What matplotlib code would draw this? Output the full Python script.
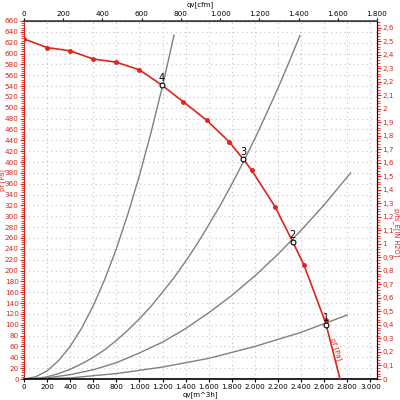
import numpy as np
import matplotlib
matplotlib.use('Agg')
import matplotlib.pyplot as plt
from matplotlib.ticker import MultipleLocator, FuncFormatter

RED = '#e2231a'
GREY = '#808080'

# fan curve, qv [m^3/h] vs pf [Pa]
q_fan = [0, 200, 400, 600, 800, 1000, 1193, 1380, 1583, 1779, 1900, 1972, 2174, 2328, 2426, 2614, 2738]
p_fan = [627, 611, 605, 590, 584, 570, 542, 511, 477, 437, 405, 385, 318, 253, 210, 103, 0]
# measured points (red markers)
q_mark = [0, 200, 400, 600, 800, 1000, 1380, 1583, 1779, 1972, 2174, 2426, 2614]
p_mark = [627, 611, 605, 590, 584, 570, 511, 477, 437, 385, 318, 210, 108]

# system curves 1..4
q_sys1 = [0, 400, 800, 1200, 1600, 2000, 2400, 2800]
p_sys1 = [0, 2, 10, 22, 38, 60, 86, 118]
q_sys2 = [0, 200, 400, 600, 800, 1000, 1200, 1400, 1600, 1800, 2000, 2200, 2400, 2600, 2830]
p_sys2 = [0, 2, 8, 17, 30, 48, 68, 93, 122, 154, 190, 230, 274, 321, 380]
q_sys3 = [0, 100, 200, 300, 400, 500, 600, 700, 800, 900, 1000, 1100, 1200,
          1300, 1400, 1500, 1600, 1700, 1800, 1900, 2000, 2100, 2200, 2300, 2390]
p_sys3 = [0, 1, 4, 10, 18, 28, 40, 54, 71, 90, 111, 134, 160,
          187, 217, 249, 284, 320, 359, 400, 443, 489, 536, 586, 633]
q_sys4 = [0, 100, 200, 300, 400, 500, 600, 700, 800, 900, 1000, 1100, 1200, 1300]
p_sys4 = [0, 4, 15, 34, 60, 94, 135, 184, 240, 304, 375, 454, 540, 634]

# operating points
op_labels = ['1', '2', '3', '4']
op_q = [2614, 2328, 1900, 1193]
op_p = [100, 253, 405, 542]

# axis ticks
cfm_ticks = [0, 200, 400, 600, 800, 1000, 1200, 1400, 1600, 1800]
inh2o_ticks = [i / 10 for i in range(27)]

CFM = 1.699   # m^3/h per cfm
PA_IN = 249.09  # Pa per inH2O
FS = 5.2

fig = plt.figure(figsize=(4, 4), dpi=100)
ax = fig.add_axes([0.06, 0.0525, 0.8825, 0.895])

for q, p in [(q_sys1, p_sys1), (q_sys2, p_sys2), (q_sys3, p_sys3), (q_sys4, p_sys4)]:
    ax.plot(q, p, color=GREY, lw=1.0, zorder=2)

ax.plot(q_fan, p_fan, color=RED, lw=1.2, zorder=3)
ax.plot(q_mark, p_mark, ls='none', marker='o', ms=2.5, color=RED, zorder=4)
ax.plot(op_q, op_p, ls='none', marker='o', ms=3.5, mfc='white', mec='black', mew=0.8, zorder=5)
for lab, q, p in zip(op_labels, op_q, op_p):
    ax.text(q, p + 4, lab, fontsize=7, color='black', ha='center', va='bottom', zorder=6)

ax.text(2700, 55, 'pf [Pa]', color=RED, fontsize=FS, rotation=-72, ha='center', va='center')

ax.set_xlim(0, 1800 * CFM)
ax.set_ylim(0, 660)
ax.xaxis.set_major_locator(MultipleLocator(200))
ax.yaxis.set_major_locator(MultipleLocator(20))
ax.yaxis.set_minor_locator(MultipleLocator(4))
ax.grid(True, color='#c4c4c4', ls=(0, (1, 3)), lw=0.8)

thou = FuncFormatter(lambda v, pos: f'{v:,.0f}'.replace(',', '.'))
ax.xaxis.set_major_formatter(thou)
ax.tick_params(axis='x', labelsize=FS, length=2, pad=1.5)
ax.tick_params(axis='y', labelsize=FS, colors=RED, length=3, pad=0.8)
ax.tick_params(axis='y', which='minor', colors=RED, length=2)
ax.spines['left'].set_color(RED)
ax.spines['bottom'].set_linewidth(1.2)
ax.spines['top'].set_linewidth(1.2)
ax.spines['top'].set_color('#444444')

top = ax.secondary_xaxis('top', functions=(lambda x: x / CFM, lambda x: x * CFM))
top.set_xticks(cfm_ticks)
top.xaxis.set_major_formatter(thou)
top.tick_params(labelsize=FS, length=2, pad=1)

right = ax.secondary_yaxis('right', functions=(lambda y: y / PA_IN, lambda y: y * PA_IN))
right.set_yticks(inh2o_ticks)
right.yaxis.set_minor_locator(MultipleLocator(0.02))
right.yaxis.set_major_formatter(FuncFormatter(lambda v, pos: (f'{v:.1f}'.rstrip('0').rstrip('.')).replace('.', ',')))
right.tick_params(labelsize=FS, colors=RED, length=3, pad=1)
right.tick_params(which='minor', colors=RED, length=2)
right.spines['right'].set_color(RED)

fig.text(0.5, 0.988, 'qv[cfm]', fontsize=5, ha='center', va='center')
fig.text(0.5, 0.013, 'qv[m^3h]', fontsize=5, ha='center', va='center')
fig.text(0.007, 0.55, 'pf [Pa]', fontsize=4.8, color=RED, rotation=90, ha='center', va='center')
fig.text(0.99, 0.42, 'p/fs_E[IN H2O]', fontsize=4.8, color=RED, rotation=270, ha='center', va='center')

fig.savefig('out.png', dpi=100, facecolor='white')
